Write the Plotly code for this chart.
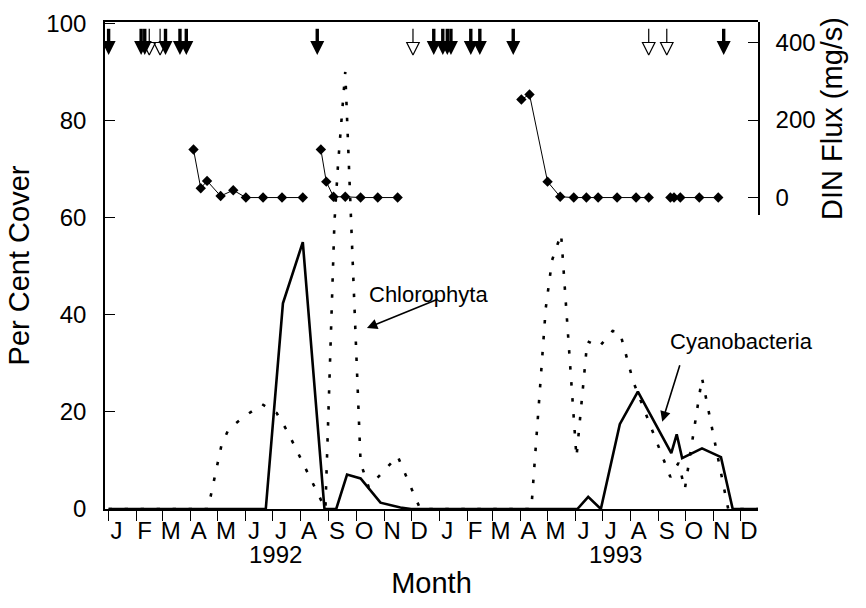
import plotly.graph_objects as go

# ---------------- data ----------------
month_letters = ["J", "F", "M", "A", "M", "J", "J", "A", "S", "O", "N", "D"] * 2
month_starts = [f"{1992 + i // 12}-{i % 12 + 1:02d}-01" for i in range(24)]

cyano_dates = ["1992-01-01", "1992-06-23", "1992-07-12", "1992-08-03", "1992-08-27",
               "1992-09-09", "1992-09-21", "1992-10-06", "1992-10-28", "1992-11-19",
               "1992-12-01", "1993-06-03", "1993-06-15", "1993-06-29", "1993-07-20",
               "1993-08-09", "1993-09-15", "1993-09-21", "1993-09-27", "1993-10-19",
               "1993-11-09", "1993-11-22", "1993-12-20"]
cyano_cover = [0, 0, 42.4, 55.0, 0,
               0, 7.1, 6.3, 1.3, 0.3,
               0, 0, 2.5, 0, 17.5,
               24.2, 11.5, 15.4, 10.5, 12.5,
               10.7, 0, 0]

chloro_dates = ["1992-01-01", "1992-04-20", "1992-05-05", "1992-05-13", "1992-05-29",
                "1992-06-19", "1992-07-05", "1992-07-17", "1992-08-28", "1992-09-07",
                "1992-09-11", "1992-09-19", "1992-10-06", "1992-10-15", "1992-11-16",
                "1992-12-11", "1993-04-13", "1993-04-29", "1993-05-06", "1993-05-16",
                "1993-06-02", "1993-06-14", "1993-06-27", "1993-07-12", "1993-07-20",
                "1993-08-04", "1993-09-14", "1993-09-23", "1993-09-30", "1993-10-19",
                "1993-11-17", "1993-12-20"]
chloro_cover = [0, 0, 13.2, 16.5, 18.9,
                21.6, 19.8, 16.0, 0, 59.0,
                71.0, 90.1, 9.5, 4.5, 10.9,
                0, 0, 41.4, 51.3, 56.7,
                10.7, 34.6, 33.4, 36.7, 36.5,
                26.2, 6.6, 9.5, 4.1, 27.0,
                0, 0]

din_dates = ["1992-04-04", "1992-04-12", "1992-04-19", "1992-05-04", "1992-05-18",
             "1992-06-01", "1992-06-20", "1992-07-11", "1992-08-03", None,
             "1992-08-23", "1992-08-29", "1992-09-06", "1992-09-19", "1992-10-06",
             "1992-10-25", "1992-11-16", None,
             "1993-04-02", "1993-04-11", "1993-05-01", "1993-05-15", "1993-05-30",
             "1993-06-13", "1993-06-26", "1993-07-17", "1993-08-07", "1993-08-21", None,
             "1993-09-14", "1993-09-18", "1993-09-25", "1993-10-16", "1993-11-06"]
din_flux = [124, 24, 43, 4, 19,
            0, 0, 0, 0, None,
            124, 41, 2, 2, 0,
            0, 0, None,
            253, 266, 41, 2, 0,
            0, 0, 0, 0, 0, None,
            0, 0, 0, 0, 0]

filled_event_dates = ["1992-01-01", "1992-02-06", "1992-02-10", "1992-03-04", "1992-03-20",
                      "1992-03-27", "1992-08-19", "1992-12-26", "1993-01-05", "1993-01-10",
                      "1993-01-14", "1993-02-05", "1993-02-15", "1993-03-24", "1993-11-12"]
open_event_dates = ["1992-02-15", "1992-02-27", "1992-12-03", "1993-08-21", "1993-09-10"]

# ---------------- style ----------------
FONT = "Liberation Sans, Arial, Helvetica, sans-serif"
SHAFT_TOP, SHAFT_BOT, HEAD_TIP = 99.0, 96.2, 93.6


def shafts(dates):
    xs, ys = [], []
    for d in dates:
        xs += [d, d, None]
        ys += [SHAFT_TOP, SHAFT_BOT, None]
    return xs, ys


fig = go.Figure()

fig.add_trace(go.Scatter(x=chloro_dates, y=chloro_cover, mode="lines",
                         line=dict(color="black", width=2.6, dash="3.5px,12.5px"),
                         hoverinfo="skip"))
fig.add_trace(go.Scatter(x=cyano_dates, y=cyano_cover, mode="lines",
                         line=dict(color="black", width=2.6), hoverinfo="skip"))

fig.add_trace(go.Scatter(x=din_dates, y=din_flux, mode="lines+markers", yaxis="y2",
                         line=dict(color="black", width=1),
                         marker=dict(symbol="diamond", size=8, color="black"),
                         hoverinfo="skip"))

fx, fy = shafts(filled_event_dates)
fig.add_trace(go.Scatter(x=fx, y=fy, mode="lines", line=dict(color="black", width=3.4),
                         hoverinfo="skip"))
ox, oy = shafts(open_event_dates)
fig.add_trace(go.Scatter(x=ox, y=oy, mode="lines", line=dict(color="black", width=1.2),
                         hoverinfo="skip"))
fig.add_trace(go.Scatter(x=filled_event_dates, y=[HEAD_TIP] * len(filled_event_dates),
                         mode="markers",
                         marker=dict(symbol="arrow-down", size=14, color="black",
                                     line=dict(width=0)),
                         hoverinfo="skip"))
fig.add_trace(go.Scatter(x=open_event_dates, y=[HEAD_TIP] * len(open_event_dates),
                         mode="markers",
                         marker=dict(symbol="arrow-down-open", size=12.5, color="black",
                                     line=dict(width=1.2, color="black")),
                         hoverinfo="skip"))

annotations = [
    dict(x="1992-07-04", y=-0.093, xref="x", yref="paper", text="1992", showarrow=False,
         font=dict(size=24, family=FONT, color="black"), yanchor="middle"),
    dict(x="1993-07-15", y=-0.093, xref="x", yref="paper", text="1993", showarrow=False,
         font=dict(size=24, family=FONT, color="black"), yanchor="middle"),
    dict(x="1992-10-13", y=44.3, xref="x", yref="y", text="Chlorophyta", showarrow=False,
         xanchor="left", yanchor="middle", font=dict(size=22, family=FONT, color="black")),
    dict(x="1992-10-13", y=37.3, xref="x", yref="y", text="", showarrow=True,
         ax=71, ay=-29, arrowhead=2, arrowsize=1.3, arrowwidth=1.6, arrowcolor="black"),
    dict(x="1993-09-11", y=34.6, xref="x", yref="y", text="Cyanobacteria", showarrow=False,
         xanchor="left", yanchor="middle", font=dict(size=22, family=FONT, color="black")),
    dict(x="1993-09-05", y=18.0, xref="x", yref="y", text="", showarrow=True,
         ax=18, ay=-58, arrowhead=2, arrowsize=1.3, arrowwidth=1.6, arrowcolor="black"),
]

fig.update_layout(
    width=866, height=608,
    margin=dict(l=105, r=108, t=22, b=99, autoexpand=False),
    paper_bgcolor="white", plot_bgcolor="rgba(0,0,0,0)",
    showlegend=False,
    font=dict(family=FONT, color="black", size=24),
    annotations=annotations,
    xaxis=dict(
        type="date", range=["1991-12-28", "1993-12-20"],
        tickmode="array", tickvals=month_starts, ticktext=month_letters,
        ticks="outside", ticklen=10, tickwidth=1.3, tickcolor="black",
        ticklabelshift=8, ticklabelstandoff=-11,
        tickfont=dict(size=24, family=FONT),
        showline=True, linecolor="black", linewidth=1.6, mirror=True,
        showgrid=False, zeroline=False,
        title=dict(text="Month", font=dict(size=29, family=FONT), standoff=30),
        automargin=False,
    ),
    yaxis=dict(
        range=[0, 100.4], domain=[0, 1],
        tickmode="array", tickvals=[0, 20, 40, 60, 80, 100],
        ticks="inside", ticklen=10, tickwidth=1.3, tickcolor="black",
        ticklabelstandoff=12,
        tickfont=dict(size=24, family=FONT),
        showline=True, linecolor="black", linewidth=1.6,
        showgrid=False, zeroline=False,
        title=dict(text="Per Cent Cover", font=dict(size=29, family=FONT), standoff=8),
        automargin=False,
    ),
    yaxis2=dict(
        range=[-45, 453], domain=[0.6037, 1], anchor="x", side="right",
        tickmode="array", tickvals=[0, 200, 400],
        ticks="inside", ticklen=10, tickwidth=1.3, tickcolor="black",
        ticklabelstandoff=11,
        tickfont=dict(size=24, family=FONT),
        showline=True, linecolor="black", linewidth=1.6,
        showgrid=False, zeroline=False,
        title=dict(text="DIN Flux (mg/s)", font=dict(size=29, family=FONT), standoff=4),
        automargin=False,
    ),
)

fig.write_html("out.html", config={"displayModeBar": False},
               post_script="document.body.style.margin='0px';")
